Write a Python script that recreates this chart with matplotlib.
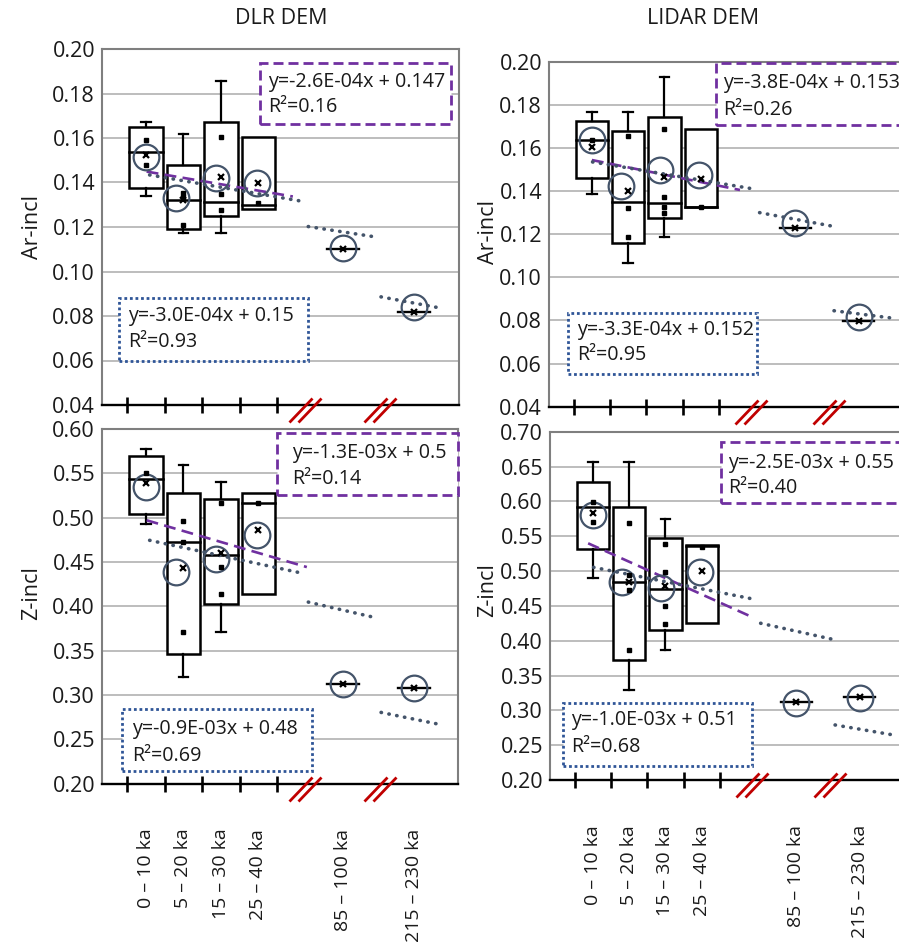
import matplotlib
matplotlib.use("Agg")
import matplotlib.pyplot as plt
import numpy as np
from matplotlib.path import Path
from matplotlib.patches import Rectangle

plt.rcParams['font.family'] = ['Open Sans', 'DejaVu Sans']

W, H = 899, 948

categories = ['0 – 10 ka', '5 – 20 ka', '15 – 30 ka', '25 – 40 ka',
              '85 – 100 ka', '215 – 230 ka']

# box stats per age group: (whisker low, q1, median, q3, whisker high)
dlr_ar_boxes = [(0.1339, 0.1374, 0.1538, 0.1651, 0.1673),
                (0.1174, 0.1190, 0.1321, 0.1479, 0.1618),
                (0.1174, 0.1251, 0.1311, 0.1670, 0.1858),
                (0.1280, 0.1280, 0.1299, 0.1606, 0.1606)]
dlr_ar_means = [0.1524, 0.1321, 0.1423, 0.1396, 0.1100, 0.0819]
dlr_ar_points = [[0.1591, 0.1479], [0.1351, 0.1336, 0.1209],
                 [0.1606, 0.1347, 0.1276], [0.1306]]
dlr_ar_circles = [0.1516, 0.1329, 0.1419, 0.1396, 0.1105, 0.0841]
dlr_ar_dash = (0.1449, 0.1337)
dlr_ar_dots = [(0.1434, 0.1314), (0.1202, 0.1157), (0.0886, 0.0834)]
dlr_ar_eq_box = ['y=-2.6E-04x + 0.147', 'R²=0.16']
dlr_ar_eq_all = ['y=-3.0E-04x + 0.15', 'R²=0.93']

lidar_ar_boxes = [(0.1386, 0.1462, 0.1637, 0.1726, 0.1765),
                  (0.1065, 0.1158, 0.1348, 0.1680, 0.1765),
                  (0.1188, 0.1276, 0.1346, 0.1745, 0.1928),
                  (0.1327, 0.1327, 0.1327, 0.1688, 0.1688)]
lidar_ar_means = [0.1606, 0.1400, 0.1467, 0.1454, 0.1227, 0.0797]
lidar_ar_points = [[0.1637], [0.1657, 0.1320, 0.1188],
                   [0.1688, 0.1371, 0.1327, 0.1300], [0.1327]]
lidar_ar_circles = [0.1637, 0.1423, 0.1498, 0.1474, 0.1253, 0.0817]
lidar_ar_dash = (0.1544, 0.1405)
lidar_ar_dots = [(0.1535, 0.1410), (0.1300, 0.1238), (0.0845, 0.0811)]
lidar_ar_eq_box = ['y=-3.8E-04x + 0.153', 'R²=0.26']
lidar_ar_eq_all = ['y=-3.3E-04x + 0.152', 'R²=0.95']

dlr_z_boxes = [(0.4925, 0.5038, 0.5434, 0.5695, 0.5770),
               (0.3198, 0.3463, 0.4725, 0.5273, 0.5593),
               (0.3715, 0.4028, 0.4575, 0.5208, 0.5397),
               (0.4133, 0.4133, 0.5170, 0.5273, 0.5273)]
dlr_z_means = [0.5393, 0.4436, 0.4600, 0.4857, 0.3123, 0.3074]
dlr_z_points = [[0.5500], [0.4959, 0.4725, 0.3707],
                [0.5167, 0.4442, 0.4133], [0.5170]]
dlr_z_circles = [0.5340, 0.4386, 0.4537, 0.4800, 0.3120, 0.3074]
dlr_z_dash = (0.4970, 0.4442)
dlr_z_dots = [(0.4744, 0.4368), (0.4047, 0.3877), (0.2802, 0.2660)]
dlr_z_eq_box = ['y=-1.3E-03x + 0.5', 'R²=0.14']
dlr_z_eq_all = ['y=-0.9E-03x + 0.48', 'R²=0.69']

lidar_z_boxes = [(0.4904, 0.5312, 0.5923, 0.6282, 0.6570),
                 (0.3293, 0.3723, 0.4847, 0.5915, 0.6570),
                 (0.3867, 0.4154, 0.4742, 0.5470, 0.5747),
                 (0.4250, 0.4250, 0.5360, 0.5374, 0.5374)]
lidar_z_means = [0.5837, 0.4847, 0.4785, 0.5000, 0.3116, 0.3188]
lidar_z_points = [[0.5995, 0.5708], [0.5694, 0.4943, 0.4728, 0.3867],
                  [0.5388, 0.4991, 0.4503, 0.4235], [0.5350]]
lidar_z_circles = [0.5804, 0.4847, 0.4752, 0.4990, 0.3110, 0.3180]
lidar_z_dash = (0.5398, 0.4345)
lidar_z_dots = [(0.5053, 0.4594), (0.4250, 0.4020), (0.2790, 0.2647)]
lidar_z_eq_box = ['y=-2.5E-03x + 0.55', 'R²=0.40']
lidar_z_eq_all = ['y=-1.0E-03x + 0.51', 'R²=0.68']

# ---- layout (category axis is broken, so positions are hand placed) ----
left_pos = [0, 1, 2, 3, 5.25, 7.15]
right_pos = [0, 1, 2, 3, 5.6, 7.35]
circle_shift = [0, -0.19, -0.12, -0.05, 0, 0]
left_breaks = [4.24, 6.24]
right_breaks = [4.38, 6.53]
left_dot_span = [(0.1, 4.22), (4.33, 6.06), (6.27, 7.91)]
right_dot_span = [(0.02, 4.45), (4.62, 6.6), (6.67, 8.27)]

PURPLE = '#7030a0'
SLATE = '#44546a'
BLUE = '#2f5597'
GRID = '#b8b8b8'
FRAME = '#7f7f7f'
INK = '#1a1a1a'

# two slanted strokes marking the axis break, in pixel units around the axis
break_mark = Path([(-16, -17), (7, 7), (-7, -17), (16, 7)],
                  [Path.MOVETO, Path.LINETO, Path.MOVETO, Path.LINETO])

fig = plt.figure(figsize=(W / 100, H / 100), dpi=100)


def add_ax(l, r, t, b):
    return fig.add_axes([l / W, 1 - b / H, (r - l) / W, (b - t) / H])


def fig_box(x0, y0, x1, y1, color, ls, lines, tx, ty):
    fig.add_artist(Rectangle((x0 / W, 1 - y1 / H), (x1 - x0) / W, (y1 - y0) / H,
                             transform=fig.transFigure, fc='white', ec=color,
                             lw=2.0, ls=ls, zorder=5))
    for s, y in zip(lines, ty):
        fig.text(tx / W, 1 - y / H, s, ha='left', va='center', fontsize=14.2,
                 color=INK, zorder=6)


def draw_panel(ax, pos, boxes, means, points, circles, dash, dash_span,
               dots, dot_span, breaks, ylim, yticks, bottom):
    bw = 0.89
    for i, (lo, q1, med, q3, hi) in enumerate(boxes):
        x = pos[i]
        ax.add_patch(Rectangle((x - bw / 2, q1), bw, q3 - q1, fc='white',
                               ec='black', lw=1.8, zorder=2))
        ax.plot([x - bw / 2, x + bw / 2], [med, med], color='black', lw=1.8, zorder=2.1)
        if hi > q3:
            ax.plot([x, x], [q3, hi], color='black', lw=1.6, zorder=2)
            ax.plot([x - 0.13, x + 0.13], [hi, hi], color='black', lw=1.6, zorder=2)
        if lo < q1:
            ax.plot([x, x], [lo, q1], color='black', lw=1.6, zorder=2)
            ax.plot([x - 0.13, x + 0.13], [lo, lo], color='black', lw=1.6, zorder=2)
        ax.plot([x] * len(points[i]), points[i], 's', color='black', ms=2.6, zorder=6)
    # single-value groups collapse to a line
    for i in range(len(boxes), len(means)):
        x = pos[i]
        ax.plot([x - 0.43, x + 0.43], [means[i]] * 2, color='black', lw=1.7, zorder=2)
    ax.plot(pos, means, 'x', color='black', ms=4.5, mew=1.6, zorder=6)
    cx = [p + s for p, s in zip(pos, circle_shift)]
    ax.plot(cx, circles, 'o', ms=18.5, mfc='none', mec=SLATE, mew=1.6, zorder=4)

    ax.plot(dash_span, dash, color=PURPLE, lw=1.9, ls=(0, (4.5, 2.4)), zorder=3)
    for (x0, x1), (y0, y1) in zip(dot_span, dots):
        ax.plot([x0, x1], [y0, y1], color=SLATE, lw=2.6, ls=(0, (0.1, 2.1)),
                dash_capstyle='round', zorder=3)

    ax.plot(breaks, [0] * len(breaks), transform=ax.get_xaxis_transform(),
            marker=break_mark, ms=24.5, mec='#c00000', mfc='none', mew=2.0,
            ls='none', clip_on=False, zorder=7)

    ax.set_ylim(*ylim)
    ax.set_yticks(yticks)
    ax.set_yticklabels([f'{v:.2f}' for v in yticks])
    ax.yaxis.grid(True, color=GRID, lw=1.3)
    ax.set_axisbelow(True)
    ax.tick_params(axis='y', length=0, pad=5, labelsize=15.5, labelcolor=INK)

    ax.set_xticks([-0.5, 0.5, 1.5, 2.5, 3.5])
    ax.set_xticks(pos, minor=True)
    ax.set_xticklabels(categories if bottom else [''] * len(pos), minor=True,
                       rotation=90, va='top', ha='center', fontsize=14,
                       color=INK)
    ax.tick_params(axis='x', which='major', direction='inout', length=12,
                   width=1.9, color='black', labelbottom=False)
    ax.tick_params(axis='x', which='minor', length=0, pad=32.5)
    for side in ('left', 'top', 'right'):
        ax.spines[side].set_color(FRAME)
        ax.spines[side].set_linewidth(1.5)
    ax.spines['bottom'].set_color('black')
    ax.spines['bottom'].set_linewidth(1.7)


ax_tl = add_ax(102, 459, 49, 405)
ax_tl.set_xlim(-1.17, 8.35)
draw_panel(ax_tl, left_pos, dlr_ar_boxes, dlr_ar_means, dlr_ar_points,
           dlr_ar_circles, dlr_ar_dash, (0.02, 3.92), dlr_ar_dots, left_dot_span,
           left_breaks, (0.04, 0.20), np.round(np.arange(0.04, 0.201, 0.02), 2), False)

ax_tr = add_ax(549, 911, 61.7, 406.7)
ax_tr.set_xlim(-1.18, 8.79)
draw_panel(ax_tr, right_pos, lidar_ar_boxes, lidar_ar_means, lidar_ar_points,
           lidar_ar_circles, lidar_ar_dash, (0.0, 4.08), lidar_ar_dots, right_dot_span,
           right_breaks, (0.04, 0.20), np.round(np.arange(0.04, 0.201, 0.02), 2), False)

ax_bl = add_ax(102, 458, 429, 783.5)
ax_bl.set_xlim(-1.17, 8.32)
draw_panel(ax_bl, left_pos, dlr_z_boxes, dlr_z_means, dlr_z_points,
           dlr_z_circles, dlr_z_dash, (0.02, 4.29), dlr_z_dots, left_dot_span,
           left_breaks, (0.20, 0.60), np.round(np.arange(0.20, 0.601, 0.05), 2), True)

ax_br = add_ax(550, 911, 431.7, 780)
ax_br.set_xlim(-1.18, 8.76)
draw_panel(ax_br, right_pos, lidar_z_boxes, lidar_z_means, lidar_z_points,
           lidar_z_circles, lidar_z_dash, (-0.13, 4.36), lidar_z_dots, right_dot_span,
           right_breaks, (0.20, 0.70), np.round(np.arange(0.20, 0.701, 0.05), 2), True)

# regression labels: dashed = boxed groups, dotted = all group means
fig_box(260, 62.7, 450.7, 124.3, PURPLE, (0, (3.6, 1.8)), dlr_ar_eq_box, 268, (81.7, 106.7))
fig_box(119.3, 298.3, 308.3, 360.7, BLUE, (0, (1, 1)), dlr_ar_eq_all, 128.3, (316, 341.7))
fig_box(716, 62.7, 910, 125, PURPLE, (0, (3.6, 1.8)), lidar_ar_eq_box, 723.3, (83.3, 110))
fig_box(567.7, 312.7, 757.3, 374, BLUE, (0, (1, 1)), lidar_ar_eq_all, 577.3, (330, 355))
fig_box(277.3, 432.7, 458.3, 495, PURPLE, (0, (3.6, 1.8)), dlr_z_eq_box, 291.7, (453.3, 479))
fig_box(121.7, 709, 311.7, 771, BLUE, (0, (1, 1)), dlr_z_eq_all, 131.7, (729.3, 756))
fig_box(721, 442.3, 910, 503.3, PURPLE, (0, (3.6, 1.8)), lidar_z_eq_box, 728.3, (463.3, 487.7))
fig_box(562.7, 703.3, 751.7, 766, BLUE, (0, (1, 1)), lidar_z_eq_all, 570.7, (720, 746.7))

fig.text(281.7 / W, 1 - 19 / H, 'DLR DEM', ha='center', va='center', fontsize=15.5, color=INK)
fig.text(703 / W, 1 - 19 / H, 'LIDAR DEM', ha='center', va='center', fontsize=15.5, color=INK)
for x, y, s in [(32, 227, 'Ar-incl'), (32, 593, 'Z-incl'),
                (488, 232, 'Ar-incl'), (488, 590, 'Z-incl')]:
    fig.text(x / W, 1 - y / H, s, rotation=90, ha='center', va='center',
             fontsize=15.5, color=INK)

fig.savefig('out.png', dpi=100)
